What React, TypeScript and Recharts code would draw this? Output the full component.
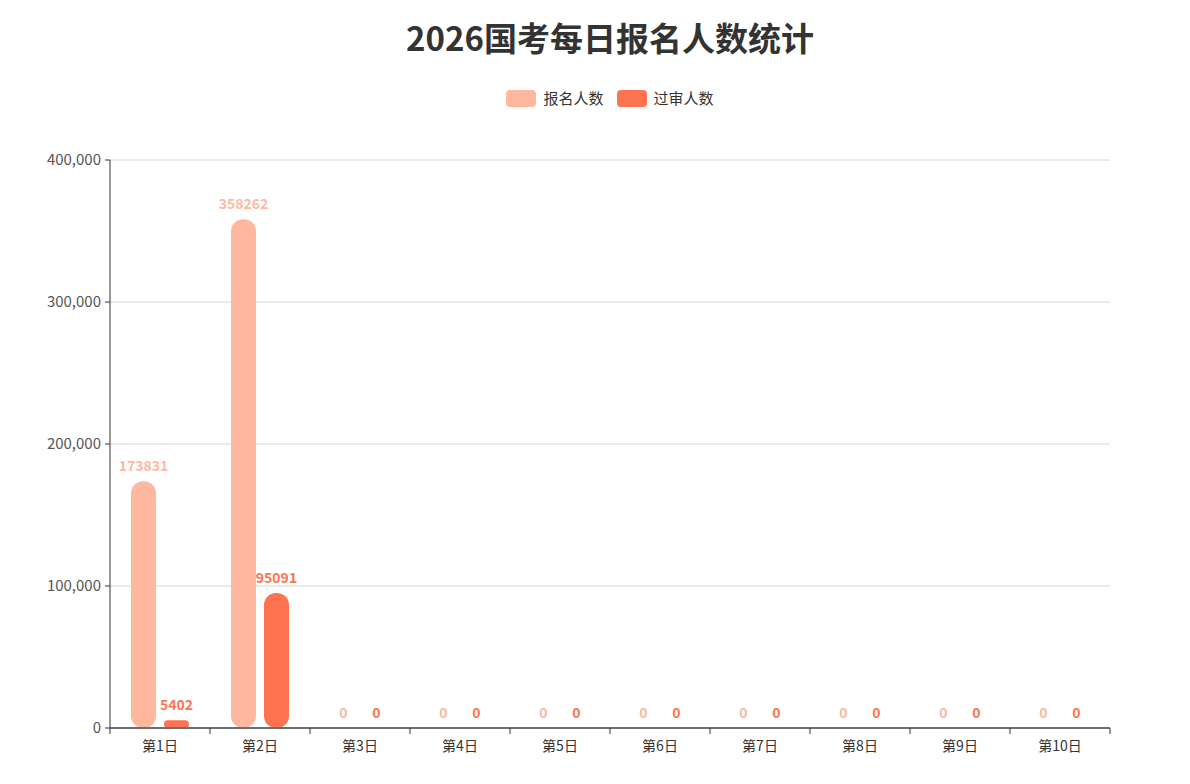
import { BarChart, Bar, XAxis, YAxis, CartesianGrid, LabelList } from "recharts";

const days = ["第1日", "第2日", "第3日", "第4日", "第5日", "第6日", "第7日", "第8日", "第9日", "第10日"];
const registered = [173831, 358262, 0, 0, 0, 0, 0, 0, 0, 0];
const approved = [5402, 95091, 0, 0, 0, 0, 0, 0, 0, 0];
const yTicks = [0, 100000, 200000, 300000, 400000];

const series = [
  { key: "registered", name: "报名人数", color: "#FFB89F" },
  { key: "approved", name: "过审人数", color: "#FF7350" },
];

const data = days.map((day, i) => ({
  day,
  registered: registered[i],
  approved: approved[i],
}));

const font = '"Noto Sans CJK SC", "Noto Sans", sans-serif';

// label under the axis plus echarts-style ticks on the band edges
const DayTick = (props: any) => {
  const { x, y, payload, index, visibleTicksCount } = props;
  const half = payload && payload.offset ? payload.offset : 50;
  const isLast = index === visibleTicksCount - 1;
  return (
    <g>
      <line x1={x - half} x2={x - half} y1={y - 12} y2={y - 6} stroke="#333" />
      {isLast && <line x1={x + half} x2={x + half} y1={y - 12} y2={y - 6} stroke="#333" />}
      <text x={x} y={y} dy="0.75em" textAnchor="middle" fill="#333" fontSize={14} fontFamily={font}>
        {payload.value}
      </text>
    </g>
  );
};

const App = () => {
  return (
    <div style={{ position: "absolute", left: 0, top: 0, width: 1190, height: 784, fontFamily: font }}>
      {/* title and legend are centred on the plot area, not the page */}
      <div
        style={{
          position: "absolute",
          top: 13,
          left: 30,
          width: 1160,
          textAlign: "center",
          fontSize: 33,
          fontWeight: "bold",
          color: "#333",
          lineHeight: "48px",
        }}
      >
        2026国考每日报名人数统计
      </div>
      <div
        style={{
          position: "absolute",
          top: 89,
          left: 30,
          width: 1160,
          display: "flex",
          justifyContent: "center",
          gap: 13,
          fontSize: 15,
          color: "#333",
        }}
      >
        {series.map((s) => (
          <div key={s.key} style={{ display: "flex", alignItems: "center", height: 18 }}>
            <span style={{ width: 30, height: 17, borderRadius: 4, background: s.color, marginRight: 7 }} />
            <span style={{ lineHeight: "18px" }}>{s.name}</span>
          </div>
        ))}
      </div>
      <BarChart
        width={1190}
        height={784}
        data={data}
        margin={{ top: 160, right: 80, bottom: 26, left: 30 }}
        barSize={25}
        barGap={8}
      >
        <CartesianGrid vertical={false} stroke="#d6d6d6" />
        <XAxis
          dataKey="day"
          height={30}
          axisLine={{ stroke: "#6e6e6e", strokeWidth: 2 }}
          tickLine={{ stroke: "none" }}
          tickSize={5}
          tickMargin={7}
          interval={0}
          tick={<DayTick />}
        />
        <YAxis
          width={80}
          domain={[0, 400000]}
          ticks={yTicks}
          axisLine={{ stroke: "#333" }}
          tickLine={{ stroke: "#333" }}
          tickSize={5}
          tickMargin={4}
          tick={{ fill: "#555", fontSize: 15, fontFamily: font }}
          tickFormatter={(v: number) => v.toLocaleString("en-US")}
        />
        {series.map((s) => (
          <Bar
            key={s.key}
            dataKey={s.key}
            name={s.name}
            fill={s.color}
            radius={[12, 12, 12, 12]}
            minPointSize={0.01}
            isAnimationActive={false}
          >
            <LabelList
              dataKey={s.key}
              position="top"
              offset={10}
              fill={s.color}
              fontSize={14}
              fontWeight="bold"
              fontFamily={font}
            />
          </Bar>
        ))}
      </BarChart>
    </div>
  );
};

export default App;
